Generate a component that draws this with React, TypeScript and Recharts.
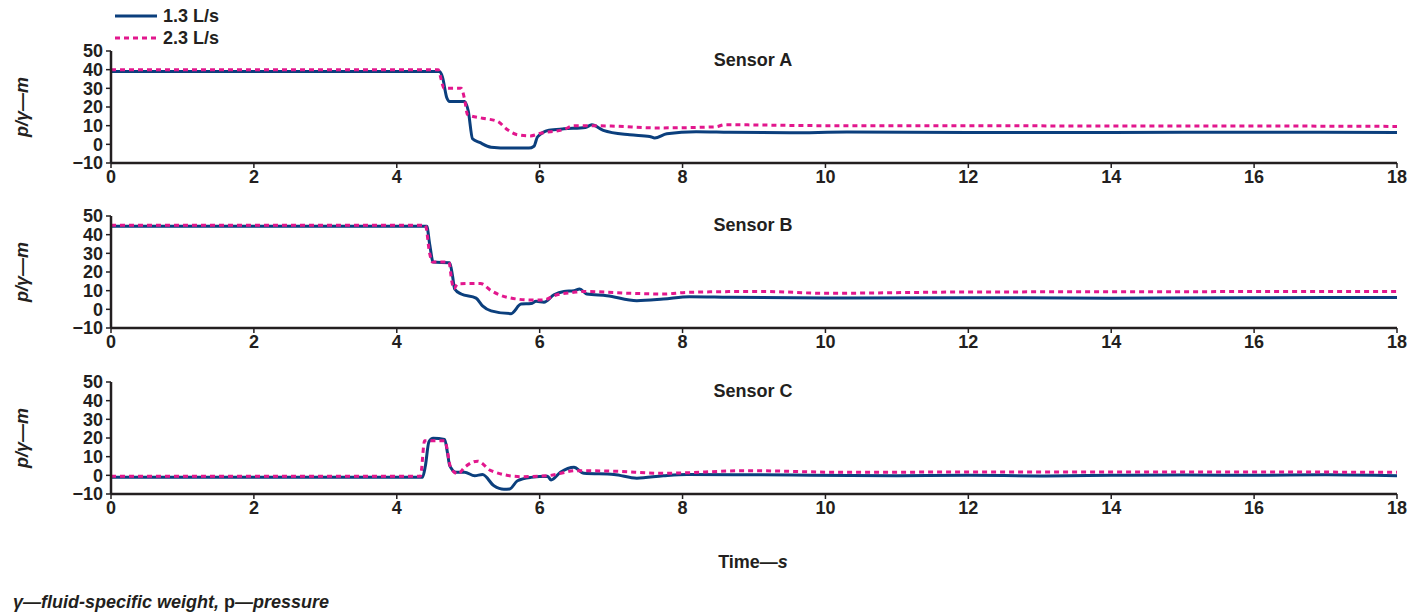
import { Label, Line, LineChart, XAxis, YAxis } from "recharts";

const FONT = "'Liberation Sans', Arial, Helvetica, sans-serif";
const BLUE = "#0b3f7d";
const PINK = "#e2178d";

const timeTicks = [0, 2, 4, 6, 8, 10, 12, 14, 16, 18];
const pressureTicks = [-10, 0, 10, 20, 30, 40, 50];

// Sensor A
const tA13 = [0, 4.6, 4.64, 4.7, 4.74, 4.95, 5.0, 5.06, 5.16, 5.32, 5.6, 5.85, 5.92, 5.97, 6.13, 6.34, 6.64, 6.73, 6.89, 7.26, 7.54, 7.61, 7.78, 8.19, 8.65, 9.5, 10.3, 12, 14, 16, 18];
const pA13 = [39, 39, 36, 25, 23, 23, 18, 3, 1, -1.5, -2, -2, -1, 4, 7.5, 8.3, 9, 10.5, 7.5, 5.1, 4.2, 3.4, 5.7, 6.8, 6.5, 6.2, 6.6, 6.4, 6.4, 6.5, 6.4];
const tA23 = [0, 4.58, 4.62, 4.66, 4.9, 4.95, 4.99, 5.2, 5.41, 5.55, 5.69, 5.87, 6.01, 6.34, 6.48, 7.0, 7.66, 8.47, 8.58, 10, 12, 14, 16, 18];
const pA23 = [40, 40, 35, 30, 30, 24, 16, 14, 12.3, 7.8, 5.1, 4.5, 5.9, 8, 10, 9.8, 8.8, 9.4, 10.5, 10, 10, 9.8, 9.8, 9.6];

// Sensor B
const tB13 = [0, 4.42, 4.46, 4.51, 4.74, 4.78, 4.81, 4.9, 5.11, 5.2, 5.32, 5.6, 5.74, 5.88, 5.95, 6.06, 6.2, 6.34, 6.48, 6.56, 6.66, 6.94, 7.36, 7.73, 8.1, 8.65, 10, 12, 14, 16, 18];
const pB13 = [44.5, 44.5, 35, 25.3, 25, 18, 10.9, 8.2, 6, 1.9, -0.8, -2.3, 2.8, 3.1, 4.3, 3.8, 7.8, 9.6, 10, 10.9, 8.2, 7.3, 4.6, 5.5, 6.8, 6.5, 6.1, 6.2, 6.0, 6.2, 6.4];
const tB23 = [0, 4.4, 4.46, 4.5, 4.73, 4.77, 4.8, 4.85, 5.17, 5.32, 5.55, 5.88, 6.06, 6.2, 6.48, 6.62, 7.27, 7.73, 8.06, 9.1, 10, 12, 14, 16, 18];
const pB23 = [45, 45, 30, 25.3, 25.3, 15, 11, 13.6, 13.9, 10, 6.4, 5, 5, 7.3, 9.1, 9.6, 8.6, 8.2, 9.1, 9.6, 8.6, 9.3, 9.4, 9.5, 9.5];

// Sensor C
const tC13 = [0, 4.36, 4.4, 4.45, 4.51, 4.67, 4.71, 4.74, 4.83, 4.95, 5.09, 5.2, 5.36, 5.5, 5.58, 5.69, 5.88, 6.11, 6.16, 6.29, 6.48, 6.62, 7.04, 7.36, 7.73, 8.06, 9, 9.8, 11, 12, 13, 14, 15, 16, 17, 18];
const pC13 = [-1, -1, 5, 18, 19.8, 19.2, 12, 5.3, 1.6, 1.6, -0.2, 0.4, -5.6, -7.5, -7.3, -2.9, -1.1, -0.5, -2.5, 1.6, 4.3, 1.1, 0.5, -1.5, -0.2, 0.5, 0.3, 0.1, -0.2, 0, -0.3, 0, 0.2, 0, 0.3, -0.2];
const tC23 = [0, 4.33, 4.39, 4.67, 4.76, 4.86, 4.95, 5.13, 5.32, 5.74, 6.11, 6.52, 7.04, 7.73, 8.9, 10.3, 12, 14, 16, 18];
const pC23 = [-0.5, -0.5, 18.5, 18.5, 3.5, 0.8, 4.3, 7.6, 2.5, -0.7, -0.2, 2.5, 2.2, 1.1, 2.5, 1.6, 1.8, 1.8, 1.8, 1.6];

const zip = (t: number[], p: number[]) => t.map((x, i) => ({ t: x, p: p[i] }));

const tickStyle = { fill: "#231f20", fontSize: 18, fontWeight: 700, fontFamily: FONT };
const axisStroke = { stroke: "#231f20", strokeWidth: 2.5 };

function SensorPanel({ top, title, slow, fast }: { top: number; title: string; slow: { t: number; p: number }[]; fast: { t: number; p: number }[] }) {
  return (
    <div style={{ position: "absolute", left: 0, top, width: 1424, height: 162 }}>
      <LineChart width={1424} height={162} margin={{ top: 20, right: 27, bottom: 0, left: 17 }}>
        <XAxis
          dataKey="t"
          type="number"
          domain={[0, 18]}
          ticks={timeTicks}
          interval={0}
          allowDuplicatedCategory={false}
          height={30}
          tick={tickStyle}
          tickSize={5}
          tickMargin={2}
          axisLine={axisStroke}
          tickLine={{ stroke: "#231f20", strokeWidth: 1.5 }}
        />
        <YAxis
          type="number"
          domain={[-10, 50]}
          ticks={pressureTicks}
          interval={0}
          width={94}
          tick={tickStyle}
          tickSize={5}
          tickMargin={3}
          tickFormatter={(v: number) => String(v).replace("-", "\u2212")}
          axisLine={axisStroke}
          tickLine={{ stroke: "#231f20", strokeWidth: 1.5 }}
        >
          <Label
            value="p/γ—m"
            angle={-90}
            position="insideLeft"
            offset={5}
            style={{ fill: "#231f20", fontSize: 18, fontWeight: 700, fontStyle: "italic", fontFamily: FONT, textAnchor: "middle" }}
          />
        </YAxis>
        <Line data={slow} dataKey="p" type="monotone" stroke={BLUE} strokeWidth={3} dot={false} isAnimationActive={false} />
        <Line data={fast} dataKey="p" type="monotone" stroke={PINK} strokeWidth={3} strokeDasharray="5 4" dot={false} isAnimationActive={false} />
      </LineChart>
      <div style={{ position: "absolute", left: 653, top: 18, width: 200, textAlign: "center", fontFamily: FONT, fontWeight: 700, fontSize: 18, color: "#231f20", lineHeight: "22px" }}>
        {title}
      </div>
    </div>
  );
}

function LegendBox() {
  return (
    <div style={{ position: "absolute", left: 0, top: 0, fontFamily: FONT, fontWeight: 700, fontSize: 18, color: "#231f20" }}>
      <svg width={160} height={50} style={{ position: "absolute", left: 0, top: 0 }}>
        <line x1={115} x2={157} y1={16} y2={16} stroke={BLUE} strokeWidth={3} />
        <line x1={115} x2={157} y1={38} y2={38} stroke={PINK} strokeWidth={3} strokeDasharray="5 4" />
      </svg>
      <div style={{ position: "absolute", left: 163, top: 5, whiteSpace: "nowrap", lineHeight: "22px" }}>1.3 L/s</div>
      <div style={{ position: "absolute", left: 163, top: 27, whiteSpace: "nowrap", lineHeight: "22px" }}>2.3 L/s</div>
    </div>
  );
}

export default function App() {
  return (
    <div style={{ position: "absolute", left: 0, top: 0, width: 1424, height: 615, background: "#fff", overflow: "hidden" }}>
      <LegendBox />
      <SensorPanel top={31} title="Sensor A" slow={zip(tA13, pA13)} fast={zip(tA23, pA23)} />
      <SensorPanel top={196} title="Sensor B" slow={zip(tB13, pB13)} fast={zip(tB23, pB23)} />
      <SensorPanel top={362} title="Sensor C" slow={zip(tC13, pC13)} fast={zip(tC23, pC23)} />
      <div style={{ position: "absolute", left: 653, top: 551, width: 200, textAlign: "center", fontFamily: FONT, fontWeight: 700, fontSize: 18, color: "#231f20", lineHeight: "22px" }}>
        Time—<i>s</i>
      </div>
      <div style={{ position: "absolute", left: 13, top: 591, whiteSpace: "nowrap", fontFamily: FONT, fontWeight: 700, fontSize: 18, color: "#231f20", lineHeight: "22px" }}>
        <i>γ—fluid-specific weight, </i>p<i>—pressure</i>
      </div>
    </div>
  );
}
